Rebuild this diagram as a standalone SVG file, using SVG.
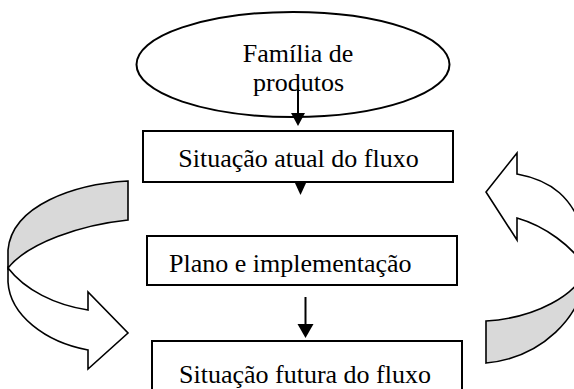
<svg xmlns="http://www.w3.org/2000/svg" width="574" height="389" viewBox="0 0 574 389">
<style>
.shape{fill:#fff;stroke:#000;stroke-width:2}
.band{stroke:#000;stroke-width:1.6;stroke-linejoin:miter}
.back{fill:#d9d9d9}
.front{fill:#fff}
.lbl{font-family:"Liberation Serif","Times New Roman",serif;font-size:26px;fill:#000}
.conn{stroke:#000;stroke-width:2;fill:none}
.head{fill:#000;stroke:none}
</style>
<rect width="574" height="389" fill="#fff"/>
<g id="cycle-left">
<path class="band back" d="M128,181 C75,184 12,205 8,250 L8,268 C28,243 80,225 128,220 Z"/>
<path class="band front" d="M8,268 C25,290 55,305 88,310 L88,292 L128,333 L88,369 L88,350 C45,342 10,315 8,282 Z"/>
</g>
<g id="cycle-right">
<path class="band back" d="M486,321 C535,318 578,295 586,268 C584,318 540,358 486,363 Z"/>
<path class="band front" d="M586,268 C572,246 545,226 517,218 L517,240 L486,192 L517,153 L517,174 C550,180 574,196 586,240 Z"/>
</g>
<g id="familia">
<ellipse class="shape" cx="293" cy="64.5" rx="156.5" ry="52.5"/>
<text class="lbl" x="298" y="62" text-anchor="middle">Família de</text>
<text class="lbl" x="298.5" y="91" text-anchor="middle">produtos</text>
</g>
<g id="atual">
<rect class="shape" x="143" y="131" width="310" height="51"/>
<text class="lbl" x="298.5" y="167" text-anchor="middle">Situação atual do fluxo</text>
</g>
<g id="plano">
<rect class="shape" x="147" y="236" width="310" height="49"/>
<text class="lbl" x="169" y="272">Plano e implementação</text>
</g>
<g id="futura">
<rect class="shape" x="152" y="341" width="310" height="70"/>
<text class="lbl" x="179" y="383">Situação futura do fluxo</text>
</g>
<g id="connectors">
<line class="conn" x1="298" y1="85" x2="298" y2="114"/>
<polygon class="head" points="291,113 305,113 298,126"/>
<polygon class="head" points="294.5,182 306.5,182 300.5,195"/>
<line class="conn" x1="305.5" y1="297" x2="305.5" y2="325"/>
<polygon class="head" points="297.5,324 313.5,324 305.5,338"/>
</g>
</svg>
